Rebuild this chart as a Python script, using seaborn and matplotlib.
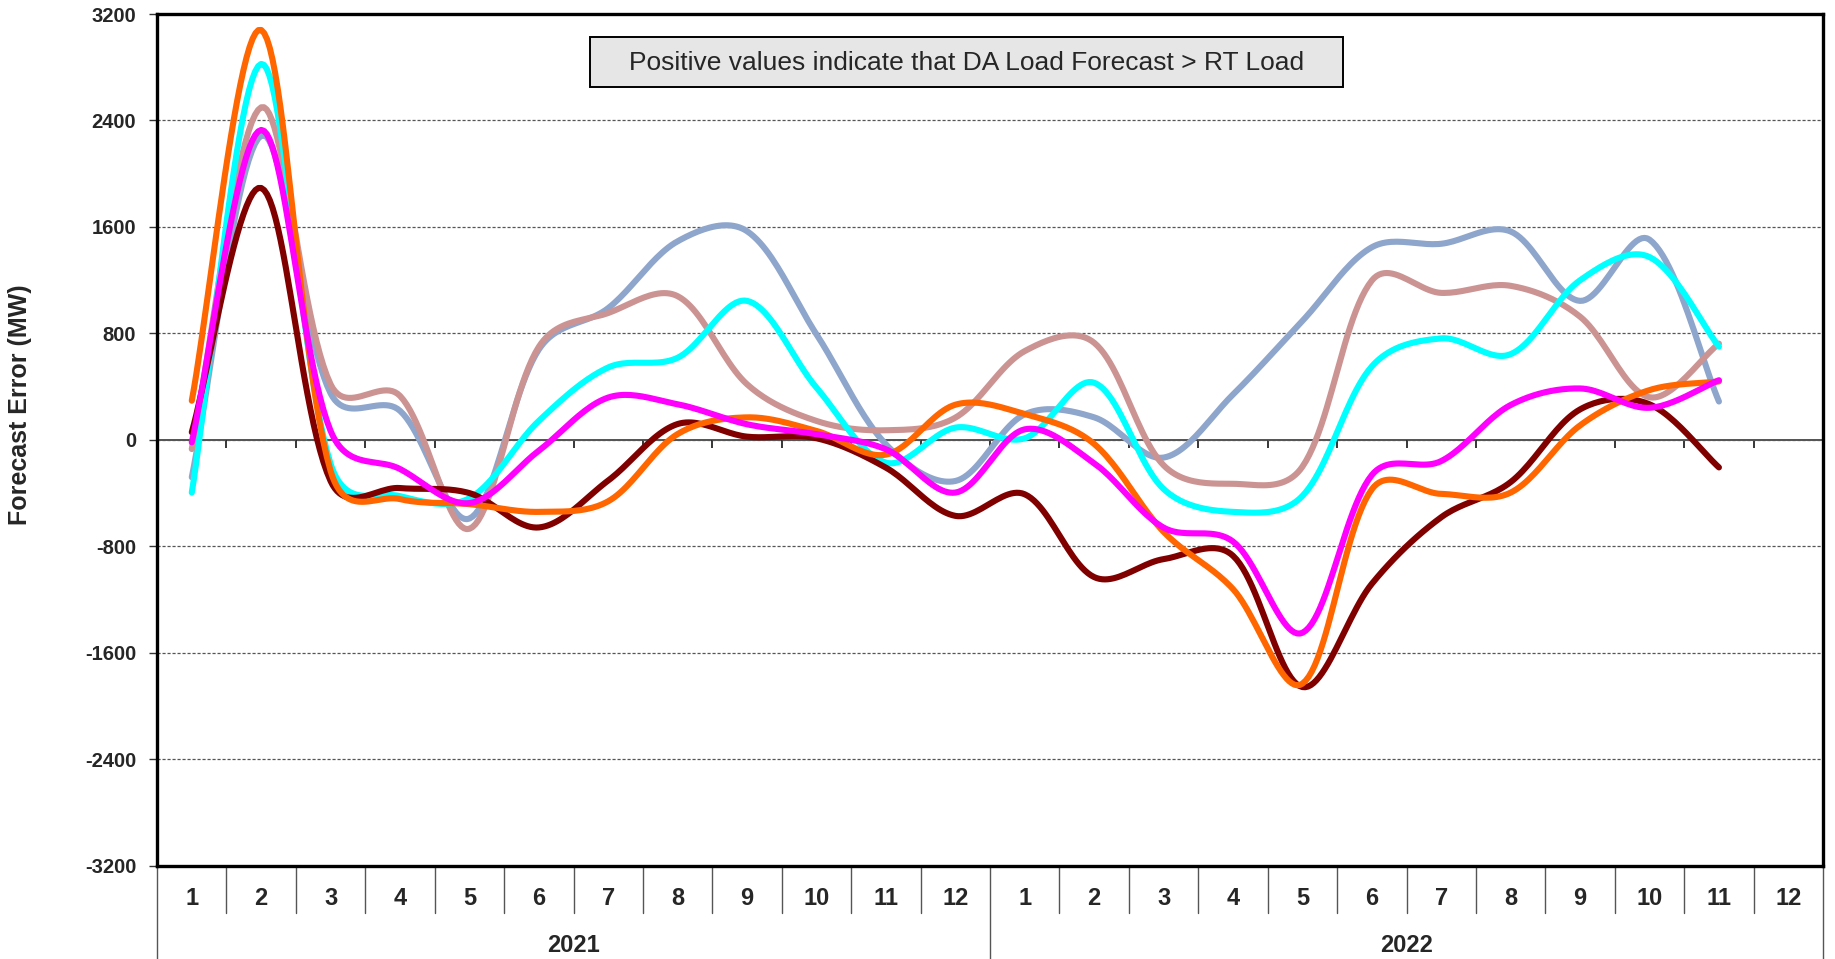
import numpy as np
import pandas as pd
import matplotlib
matplotlib.use('Agg')
import matplotlib.pyplot as plt
from matplotlib.patches import Rectangle
import seaborn as sns

sns.set_style('white')
plt.rcParams['font.family'] = ['Liberation Sans', 'DejaVu Sans']

# months 2021-01 .. 2022-11 (forecast error, MW)
months = [str(m) for m in range(1, 13)] * 2
years = ['2021', '2022']
s_blue = [-280, 2286, 350, 219, -590, 680, 991, 1493, 1568, 793, -33, -308,
          193, 170, -132, 342, 895, 1448, 1474, 1566, 1045, 1505, 289]
s_rosy = [-68, 2499, 418, 331, -667, 700, 954, 1080, 418, 143, 73, 168,
          668, 730, -190, -329, -200, 1198, 1105, 1158, 926, 321, 724]
s_cyan = [-395, 2825, -180, -422, -437, 144, 545, 618, 1045, 393, -170, 93,
          13, 430, -368, -540, -420, 553, 763, 645, 1200, 1374, 701]
s_darkred = [58, 1893, -309, -361, -399, -657, -304, 120, 25, 13, -208, -570,
             -408, -1030, -895, -870, -1856, -1080, -580, -316, 230, 268, -206]
s_orange = [295, 3080, -233, -444, -482, -540, -460, 45, 170, 68, -110, 265,
            195, -30, -690, -1120, -1830, -370, -405, -395, 110, 375, 440]
s_magenta = [-18, 2329, 68, -218, -474, -80, 319, 268, 118, 43, -70, -395,
             80, -175, -658, -763, -1448, -263, -158, 263, 387, 242, 449]

series = {'s1': s_blue, 's2': s_rosy, 's3': s_cyan,
          's4': s_darkred, 's5': s_orange, 's6': s_magenta}
colors = {'s1': '#8EA5CC', 's2': '#CC9393', 's3': '#00FFFF',
          's4': '#800000', 's5': '#FF6600', 's6': '#FF00FF'}

# pixel size of one x unit / one MW, used to weight the smoothing like Excel
PX_X, PX_Y = 69.4, 852 / 6400


def smooth(xs, ys, n=24):
    # smoothed line through the points (half catmull-rom, half length weighted)
    P = np.column_stack([xs, ys]).astype(float)
    S = P * [PX_X, PX_Y]
    P = np.vstack([P[0], P, P[-1]])
    S = np.vstack([S[0], S, S[-1]])
    t = np.linspace(0, 1, n, endpoint=False)[:, None]
    out = []
    for i in range(1, len(P) - 2):
        p0, p1, p2, p3 = P[i - 1], P[i], P[i + 1], P[i + 2]
        d0 = np.linalg.norm(S[i] - S[i - 1])
        d1 = np.linalg.norm(S[i + 1] - S[i])
        d2 = np.linalg.norm(S[i + 2] - S[i + 1])
        f1 = 0.5 / 6 + 0.5 * (d1 / (3 * (d0 + d1)) if d0 + d1 > 0 else 0)
        f2 = 0.5 / 6 + 0.5 * (d1 / (3 * (d1 + d2)) if d1 + d2 > 0 else 0)
        b1 = p1 + (p2 - p0) * f1
        b2 = p2 - (p3 - p1) * f2
        out.append((1 - t) ** 3 * p1 + 3 * (1 - t) ** 2 * t * b1
                   + 3 * (1 - t) * t ** 2 * b2 + t ** 3 * p2)
    out.append(P[-2][None, :])
    return np.vstack(out)


frames = []
for name, vals in series.items():
    pts = smooth(np.arange(len(vals)), vals)
    frames.append(pd.DataFrame({'x': pts[:, 0], 'y': pts[:, 1], 'series': name}))
df = pd.concat(frames, ignore_index=True)

fig = plt.figure(figsize=(18.35, 9.59), dpi=100)
ax = fig.add_axes([0.0856, 0.097, 0.9079, 0.8884])

ax.set_ylim(-3200, 3200)
ax.set_xlim(-0.5, 23.5)
ax.set_yticks(np.arange(-3200, 3201, 800))
ax.yaxis.grid(True, linestyle=(0, (2.5, 1.5)), color='#555555', linewidth=0.9)
ax.set_axisbelow(True)

sns.lineplot(data=df, x='x', y='y', hue='series', palette=colors, sort=False,
             estimator=None, linewidth=4.4, legend=False, ax=ax,
             solid_capstyle='round', zorder=3)

# zero line with category ticks
ax2 = ax.twiny()
ax2.set_xlim(ax.get_xlim())
for s in ['top', 'left', 'right']:
    ax2.spines[s].set_visible(False)
ax2.spines['bottom'].set_position(('data', 0))
ax2.spines['bottom'].set_linewidth(1.1)
ax2.xaxis.set_ticks_position('bottom')
ax2.set_xticks(np.arange(0.5, 23, 1))
ax2.set_xticklabels([])
ax2.tick_params(axis='x', direction='out', length=6, width=1.1, color='black')
ax2.set_zorder(ax.get_zorder() - 1)
ax.patch.set_visible(False)

for s in ax.spines.values():
    s.set_linewidth(2.4)
    s.set_color('black')

ax.set_xticks(range(24))
ax.set_xticklabels(months, fontsize=17, fontweight='bold')
ax.tick_params(axis='x', length=0, pad=15)
ax.set_yticklabels([f'{v:d}' for v in range(-3200, 3201, 800)],
                   fontsize=14.5, fontweight='bold')
ax.tick_params(axis='y', direction='out', length=6, width=1, color='#333333', pad=9, left=True)
ax.set_xlabel('')
ax.set_ylabel('Forecast Error (MW)', fontsize=18, fontweight='bold')
ax.yaxis.set_label_coords(-0.075, 0.542)

# category separators below the axis
trans = ax.get_xaxis_transform()
for b in np.arange(-0.5, 24, 1):
    low = -0.109 if b in (-0.5, 11.5, 23.5) else -0.055
    ax.plot([b, b], [0, low], transform=trans, color='#555555', lw=1,
            clip_on=False)
for i, yr in enumerate(years):
    ax.text(5.5 + 12 * i, -0.093, yr, transform=trans, ha='center', va='center',
            fontsize=17, fontweight='bold')

# note box
ax.add_patch(Rectangle((0.260, 0.9148), 0.452, 0.0577, transform=ax.transAxes,
                       facecolor='#E6E6E6', edgecolor='black', lw=1.4, zorder=5))
ax.text(0.486, 0.9425, 'Positive values indicate that DA Load Forecast > RT Load',
        transform=ax.transAxes, ha='center', va='center', fontsize=19, zorder=6)

plt.savefig('out.png', dpi=100)
